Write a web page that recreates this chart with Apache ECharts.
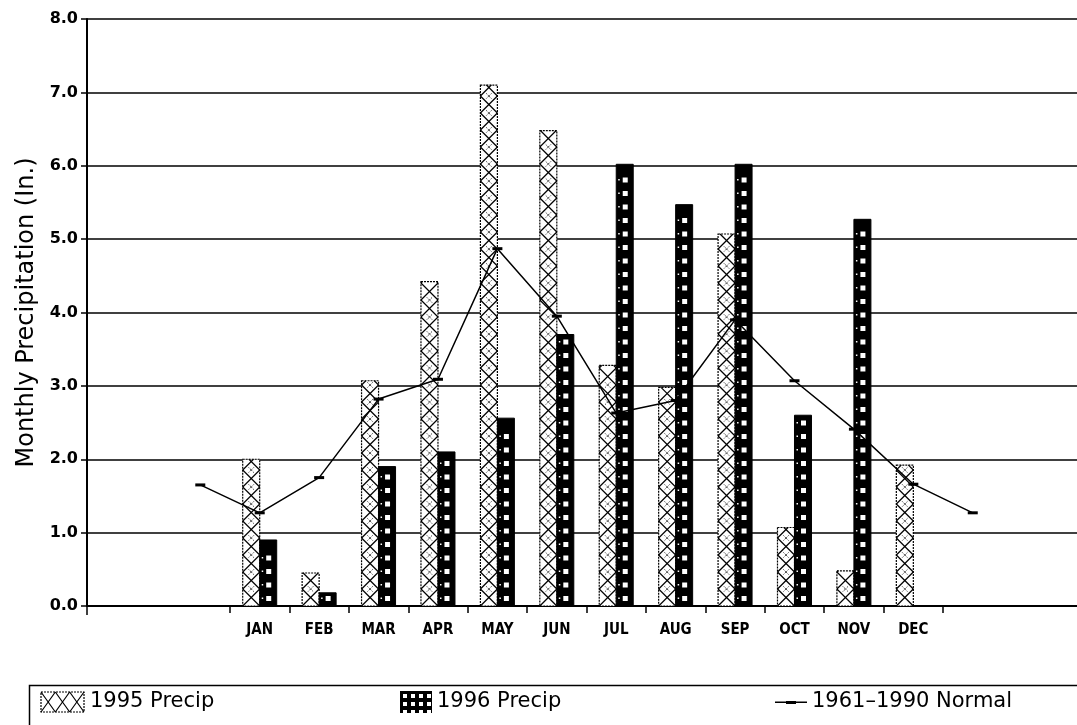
<!DOCTYPE html>
<html>
<head>
<meta charset="utf-8">
<script src="https://cdn.jsdelivr.net/npm/echarts@6/dist/echarts.min.js"></script>
<style>html,body{margin:0;padding:0;background:#fff;}#c{width:1077px;height:725px;}</style>
</head>
<body>
<div id="c"></div>
<script>
// ---- data ----
const categories = ['', 'JAN', 'FEB', 'MAR', 'APR', 'MAY', 'JUN', 'JUL', 'AUG', 'SEP', 'OCT', 'NOV', 'DEC', '', '', ''];
const months = ['JAN', 'FEB', 'MAR', 'APR', 'MAY', 'JUN', 'JUL', 'AUG', 'SEP', 'OCT', 'NOV', 'DEC'];
const precip1995 = [2.00, 0.45, 3.07, 4.42, 7.10, 6.48, 3.28, 2.98, 5.07, 1.07, 0.48, 1.92];
const precip1996 = [0.90, 0.18, 1.90, 2.10, 2.56, 3.70, 6.02, 5.47, 6.02, 2.60, 5.27, null];
// normal includes previous December (first) and following January (last)
const normal = [1.65, 1.27, 1.75, 2.82, 3.09, 4.87, 3.95, 2.63, 2.80, 3.90, 3.07, 2.41, 1.66, 1.27];
const seriesNames = ['1995 Precip', '1996 Precip', '1961\u20131990 Normal'];
const yAxisTitle = 'Monthly Precipitation (In.)';

const BAR_W = 17;
const BAND_W = 59.42;

function line(x1, y1, x2, y2, lw, dash) {
  return { type: 'line', shape: { x1, y1, x2, y2 }, style: { stroke: '#000', lineWidth: lw || 1.2, lineDash: dash || null } };
}

function draw1995(params, api) {
  const c = api.coord([api.value(0), api.value(1)]);
  const b = api.coord([api.value(0), 0]);
  const w = BAR_W, x0 = c[0] - w, x1 = c[0], yT = c[1], yB = b[1], h = yB - yT;
  const kids = [{ type: 'rect', shape: { x: x0, y: yT, width: w, height: h }, style: { fill: '#fff', stroke: '#000', lineWidth: 1.2, lineDash: [2, 1] } }];
  for (let k = 0; k * w < h; k++) {
    const ya = yB - k * w, yb = yB - (k + 1) * w;
    const t = yb < yT ? (ya - yT) / (ya - yb) : 1;
    const yEnd = ya - t * w;
    kids.push(line(x0, ya, x0 + t * w, yEnd, 1.2));
    kids.push(line(x1, ya, x1 - t * w, yEnd, 1.2));
    if (k >= 1) {
      const cx = x0 + w / 2;
      if (ya - 3 > yT) {
        kids.push(line(cx - 2.5, ya - 2.5, cx + 2.5, ya + 2.5, 1, [1, 1]));
        kids.push(line(cx + 2.5, ya - 2.5, cx - 2.5, ya + 2.5, 1, [1, 1]));
      }
    }
  }
  return { type: 'group', children: kids };
}

function draw1996(params, api) {
  const c = api.coord([api.value(0), api.value(1)]);
  const b = api.coord([api.value(0), 0]);
  const w = BAR_W, x0 = c[0], yT = c[1], yB = b[1], h = yB - yT;
  const kids = [{ type: 'rect', shape: { x: x0, y: yT, width: w, height: h }, style: { fill: '#000', stroke: '#000', lineWidth: 1 } }];
  const sq = 5, step = 13.5;
  for (let y = yB - 5 - sq; y > yT + 3; y -= step) {
    kids.push({ type: 'rect', shape: { x: x0 + w / 2 - sq / 2 + 0.5, y: y, width: sq, height: sq }, style: { fill: '#fff' } });
    kids.push({ type: 'rect', shape: { x: x0 + 2, y: y + 1.5, width: 1.5, height: 1.5 }, style: { fill: '#fff' } });
  }
  return { type: 'group', children: kids };
}

function icon1995() {
  const cv = document.createElement('canvas'); cv.width = 45; cv.height = 22;
  const g = cv.getContext('2d');
  g.fillStyle = '#fff'; g.fillRect(0, 0, 45, 22);
  g.strokeStyle = '#000'; g.lineWidth = 1.2;
  g.setLineDash([2, 1]); g.strokeRect(1, 1, 43, 20); g.setLineDash([]);
  for (let i = 0; i < 3; i++) {
    const x = 1 + i * 14.33;
    g.beginPath(); g.moveTo(x, 1); g.lineTo(x + 14.33, 21); g.moveTo(x + 14.33, 1); g.lineTo(x, 21); g.stroke();
  }
  return 'image://' + cv.toDataURL();
}
function icon1996() {
  const cv = document.createElement('canvas'); cv.width = 32; cv.height = 22;
  const g = cv.getContext('2d');
  g.fillStyle = '#000'; g.fillRect(0, 0, 32, 22);
  g.fillStyle = '#fff';
  for (let x = 3; x < 30; x += 8) for (let y = 3; y < 20; y += 8) g.fillRect(x, y, 4, 4);
  return 'image://' + cv.toDataURL();
}
function iconNormal() {
  const cv = document.createElement('canvas'); cv.width = 32; cv.height = 22;
  const g = cv.getContext('2d');
  g.fillStyle = '#000';
  g.fillRect(0, 10.5, 32, 1.5);
  g.fillRect(11, 10, 10, 3);
  return 'image://' + cv.toDataURL();
}

const chart = echarts.init(document.getElementById('c'), null, { renderer: 'canvas' });
const legendText = { fontFamily: 'DejaVu Sans', fontSize: 21, color: '#000' };

const option = {
  backgroundColor: '#fff',
  animation: false,
  grid: [
    { left: 87, top: 19, width: 2000, height: 587, outerBoundsMode: 'none', containLabel: false },
    { left: 230 - BAND_W, top: 19, width: BAND_W * categories.length, height: 587, outerBoundsMode: 'none', containLabel: false }
  ],
  xAxis: [
    { type: 'value', gridIndex: 0, min: 0, max: 1, interval: 1,
      axisLine: { show: true, lineStyle: { color: '#000', width: 2 } },
      axisTick: { show: true, length: 9, lineStyle: { color: '#000', width: 1.5 } },
      axisLabel: { show: false }, splitLine: { show: false } },
    { type: 'category', gridIndex: 1, data: categories, boundaryGap: true,
      axisLine: { show: false },
      axisTick: { show: true, length: 7, interval: function (i) { return i >= 1 && i <= 13; }, lineStyle: { color: '#000', width: 1.5 } },
      axisLabel: { interval: 0, margin: 17, fontFamily: 'DejaVu Sans Condensed', fontWeight: 'bold', fontSize: 15, color: '#000' },
      splitLine: { show: false } }
  ],
  yAxis: [
    { type: 'value', gridIndex: 0, min: 0, max: 8, interval: 1,
      name: yAxisTitle, nameLocation: 'middle', nameGap: 42,
      nameTextStyle: { fontFamily: 'DejaVu Sans', fontSize: 24, color: '#000' },
      axisLine: { show: true, lineStyle: { color: '#000', width: 2 } },
      axisTick: { show: true, length: 6, lineStyle: { color: '#000', width: 1.5 } },
      axisLabel: { margin: 9, fontFamily: 'DejaVu Sans', fontWeight: 'bold', fontSize: 16, color: '#000', formatter: v => v.toFixed(1) },
      splitLine: { show: true, lineStyle: { color: '#000', width: 1.5 } } },
    { type: 'value', gridIndex: 1, min: 0, max: 8, interval: 1, show: false, splitLine: { show: false } }
  ],
  legend: [
    { data: [{ name: seriesNames[0], icon: icon1995() }], left: 35, top: 686, itemWidth: 45, itemHeight: 22, itemGap: 0, textStyle: legendText, selectedMode: false },
    { data: [{ name: seriesNames[1], icon: icon1996() }], left: 395, top: 686, itemWidth: 32, itemHeight: 22, itemGap: 0, textStyle: legendText, selectedMode: false },
    { data: [{ name: seriesNames[2], icon: iconNormal() }], left: 770, top: 686, itemWidth: 32, itemHeight: 22, itemGap: 0, textStyle: legendText, selectedMode: false }
  ],
  graphic: [
    { type: 'rect', left: 27, top: 683, shape: { width: 1100, height: 100 }, style: { fill: 'none', stroke: '#000', lineWidth: 1.5 }, silent: true }
  ],
  series: [
    { name: seriesNames[0], type: 'custom', xAxisIndex: 1, yAxisIndex: 1, z: 2,
      itemStyle: { color: '#fff', borderColor: '#000' },
      renderItem: draw1995, encode: { x: 0, y: 1 },
      data: precip1995.map((v, i) => [months[i], v]).filter(d => d[1] != null) },
    { name: seriesNames[1], type: 'custom', xAxisIndex: 1, yAxisIndex: 1, z: 2,
      itemStyle: { color: '#000' },
      renderItem: draw1996, encode: { x: 0, y: 1 },
      data: precip1996.map((v, i) => [months[i], v]).filter(d => d[1] != null) },
    { name: seriesNames[2], type: 'line', xAxisIndex: 1, yAxisIndex: 1, z: 5,
      data: normal,
      symbol: 'rect', symbolSize: [10, 3],
      lineStyle: { color: '#000', width: 1.5 },
      itemStyle: { color: '#000' } }
  ]
};
chart.setOption(option);
</script>
</body>
</html>
